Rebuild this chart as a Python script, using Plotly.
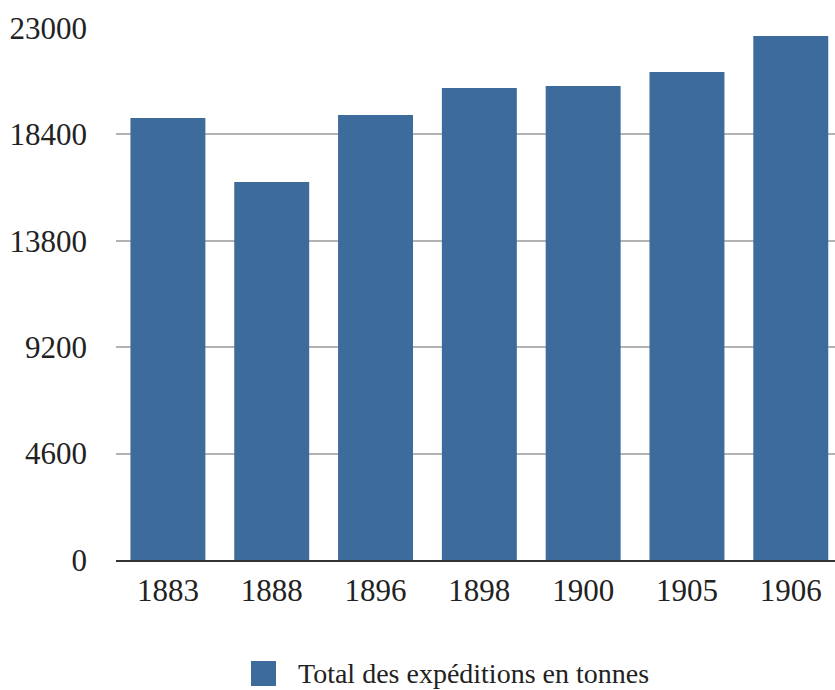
import plotly.graph_objects as go

# Shipments per year (tonnes)
years = ["1883", "1888", "1896", "1898", "1900", "1905", "1906"]
tonnes = [19110, 16340, 19240, 20410, 20490, 21100, 22650]
y_ticks = [0, 4600, 9200, 13800, 18400, 23000]
series_name = "Total des expéditions en tonnes"

bar_color = "#3d6b9c"
font_family = "Liberation Serif, Times New Roman, serif"
text_color = "#222222"

fig = go.Figure()
fig.add_trace(go.Bar(
    x=years,
    y=tonnes,
    name=series_name,
    marker=dict(color=bar_color, line=dict(width=0)),
    showlegend=False,
))

fig.update_layout(
    width=835,
    height=690,
    margin=dict(l=116, r=0, t=28, b=130),
    paper_bgcolor="white",
    plot_bgcolor="white",
    bargap=0.278,
    font=dict(family=font_family, color=text_color, size=31),
    xaxis=dict(
        type="category",
        range=[-0.5, 6.426],
        showgrid=False,
        showline=True,
        linecolor="#333333",
        linewidth=2,
        ticks="",
        tickfont=dict(size=31),
        ticklabelstandoff=2,
    ),
    yaxis=dict(
        range=[0, 23000],
        tickvals=y_ticks,
        ticktext=[str(v) for v in y_ticks],
        showgrid=True,
        gridcolor="#b3b3b3",
        gridwidth=2,
        zeroline=False,
        showline=False,
        ticks="",
        tickfont=dict(size=31),
        ticklabelstandoff=28,
    ),
)

# Legend: square swatch plus label under the plot
fig.add_shape(
    type="rect", xref="paper", yref="paper",
    x0=(251 - 116) / 719, x1=(276 - 116) / 719,
    y0=-(686 - 560) / 532, y1=-(661 - 560) / 532,
    fillcolor=bar_color, line=dict(width=0),
)
fig.add_annotation(
    text=series_name, xref="paper", yref="paper",
    x=(296 - 116) / 719, y=-(673 - 560) / 532,
    xanchor="left", yanchor="middle", showarrow=False,
    font=dict(size=28, family=font_family, color=text_color),
)

fig.write_html("out.html")
